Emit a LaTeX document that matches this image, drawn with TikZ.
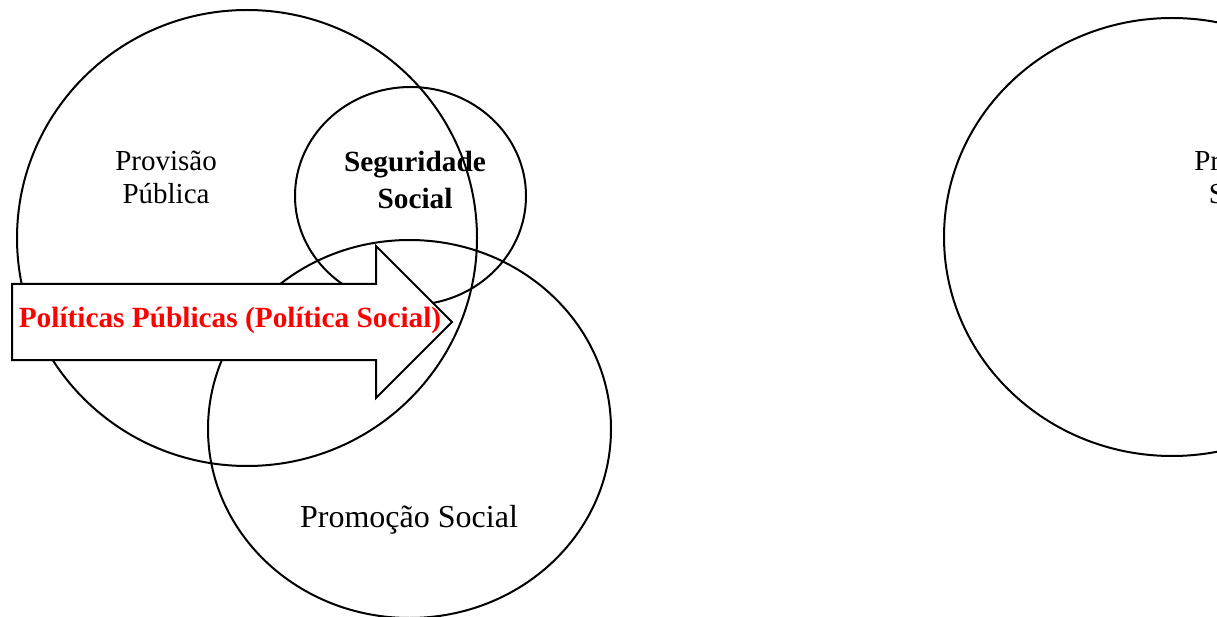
\documentclass[tikz,border=0pt]{standalone}
\usepackage{fontspec}
\setmainfont{Liberation Serif}
\usetikzlibrary{shapes.geometric}
\definecolor{polred}{RGB}{255,0,0}

\begin{document}
\begin{tikzpicture}[x=1pt,y=-1pt,inner sep=0pt]
\tikzstyle{venn}=[ellipse, draw=black, line width=2pt]
\tikzstyle{lbl}=[align=center, font=\fontsize{29}{33}\selectfont]
\tikzstyle{blbl}=[align=center, font=\fontsize{29.3}{37}\selectfont\bfseries]
\tikzstyle{arrowbox}=[draw=black, line width=2pt, fill=white, line join=miter]
\useasboundingbox (0,0) rectangle (1217,617);
\node[venn, minimum width=460pt, minimum height=456pt] (prov) at (247,238) {};
\node[venn, minimum width=231pt, minimum height=218pt] (seg) at (410.5,196) {};
\node[venn, minimum width=403pt, minimum height=378pt] (prom) at (409.5,429) {};
\node[venn, minimum width=456pt, minimum height=438pt] (prot) at (1172,237) {};
\draw[arrowbox] (12,284) coordinate (a1) -- (376,284) -- (376,246) -- (452,322) coordinate (tip)
  -- (376,398) -- (376,360) -- (12,360) -- cycle;
\node[lbl] (provtxt) at (166,177) {Provisão\\Pública};
\node[blbl] (segtxt) at (415,180) {Seguridade\\Social};
\node[lbl, font=\fontsize{32}{36}\selectfont] (promtxt) at (409,520) {Promoção Social};
\node[lbl] (prottxt) at (1245,177) {Proteção\\Social};
\node[blbl, text=polred] (pol) at (230,320) {Políticas Públicas (Política Social)};
\end{tikzpicture}
\end{document}
